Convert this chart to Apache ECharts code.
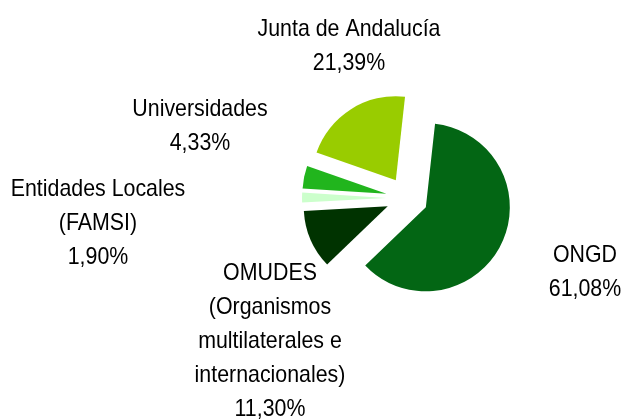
<!DOCTYPE html>
<html>
<head>
<meta charset="utf-8">
<script src="https://cdn.jsdelivr.net/npm/echarts@6/dist/echarts.min.js"></script>
<style>
  html, body { margin: 0; padding: 0; background: #fff; }
  #main { width: 624px; height: 419px; }
</style>
</head>
<body>
<div id="main"></div>
<script>
// datos del grafico (porcentajes)
var categories = ['ONGD', 'OMUDES', 'Entidades Locales', 'Universidades', 'Junta de Andalucía'];
var labelNames = [
    'ONGD',
    'OMUDES\n(Organismos\nmultilaterales e\ninternacionales)',
    'Entidades Locales\n(FAMSI)',
    'Universidades',
    'Junta de Andalucía'
];
var values = [61.08, 11.30, 1.90, 4.33, 21.39];
var colors = ['#036614', '#003300', '#ccffcc', '#21b51d', '#99cc00'];

// centro de cada etiqueta (x, y)
var labelPos = [[585, 272], [270, 341], [98, 223], [200, 126], [349, 46]];

var myChart = echarts.init(document.getElementById('main'));

var datas = [];
var labels = [];
for (var i = 0; i < categories.length; i++) {
    datas.push({
        name: categories[i],
        value: values[i],
        selected: true,
        itemStyle: { color: colors[i] },
        select: { itemStyle: { color: colors[i] } }
    });
    // letra estrecha, como Arial Narrow
    labels.push({
        type: 'text',
        x: labelPos[i][0],
        y: labelPos[i][1],
        scaleX: 0.89,
        silent: true,
        style: {
            text: labelNames[i] + '\n' + values[i].toFixed(2).replace('.', ',') + '%',
            fill: '#000',
            fontFamily: "'Liberation Sans', Arial",
            fontSize: 24,
            lineHeight: 34,
            align: 'center',
            verticalAlign: 'middle'
        }
    });
}

var option = {
    animation: false,
    graphic: labels,
    series: [{
        type: 'pie',
        center: [407, 198],
        radius: 84,
        startAngle: 83.7,
        clockwise: true,
        selectedMode: 'multiple',
        selectedOffset: 21,
        label: { show: false },
        labelLine: { show: false },
        emphasis: { disabled: true },
        data: datas
    }]
};
myChart.setOption(option);
</script>
</body>
</html>
